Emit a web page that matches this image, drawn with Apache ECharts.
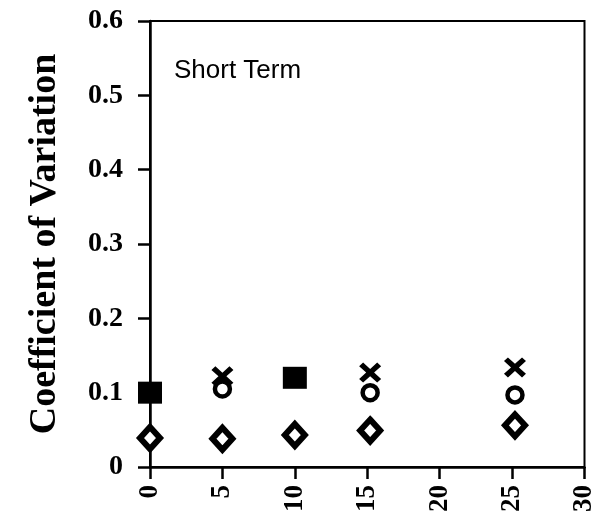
<!DOCTYPE html>
<html><head><meta charset="utf-8">
<script src="https://cdn.jsdelivr.net/npm/echarts@6/dist/echarts.min.js"></script>
<style>html,body{margin:0;padding:0;background:#fff}#c{width:598px;height:525px}</style>
</head><body><div id="c"></div>
<script>
const xCircle = [0, 5, 10, 15.2, 25.2];
const yCircle = [0.1, 0.105, 0.12, 0.1, 0.097];
const xCross = [0, 5, 10, 15.2, 25.2];
const yCross = [0.1, 0.122, 0.12, 0.127, 0.134];
const xDiamond = [0, 5, 10, 15.2, 25.2];
const yDiamond = [0.039, 0.038, 0.043, 0.049, 0.056];
const xSquare = [0, 10];
const ySquare = [0.1, 0.12];
const yTicks = ['0','0.1','0.2','0.3','0.4','0.5','0.6'];
const xTicks = ['0','5','10','15','20','25','30'];

const pair = (xs, ys) => xs.map((x, i) => [x, ys[i]]);
const crossPath = 'path://M0,1.8 L1.8,0 L5,3.2 L8.2,0 L10,1.8 L6.8,5 L10,8.2 L8.2,10 L5,6.8 L1.8,10 L0,8.2 L3.2,5 Z';

const chart = echarts.init(document.getElementById('c'));
chart.setOption({
  animation: false,
  backgroundColor: '#fff',
  grid: {left: 150, right: 13, top: 21, bottom: 58, show: true, borderColor: '#000', borderWidth: 2, backgroundColor: 'transparent'},
  xAxis: {
    type: 'value', min: 0, max: 30, interval: 5,
    axisLine: {show: true, lineStyle: {color: '#000', width: 2.5}},
    axisTick: {show: true, length: 12, lineStyle: {color: '#000', width: 2.5}},
    splitLine: {show: false},
    axisLabel: {rotate: 90, color: '#000', fontFamily: 'Liberation Serif', fontWeight: 'bold', fontSize: 27, margin: 18,
      formatter: v => xTicks[Math.round(v / 5)]}
  },
  yAxis: {
    type: 'value', min: 0, max: 0.6, interval: 0.1,
    name: 'Coefficient of Variation', nameLocation: 'middle', nameGap: 86, nameRotate: 90,
    nameTextStyle: {color: '#000', fontFamily: 'Liberation Serif', fontWeight: 'bold', fontSize: 38},
    axisLine: {show: true, lineStyle: {color: '#000', width: 2.5}},
    axisTick: {show: true, length: 12, lineStyle: {color: '#000', width: 2.5}},
    splitLine: {show: false},
    axisLabel: {color: '#000', fontFamily: 'Liberation Serif', fontWeight: 'bold', fontSize: 28, margin: 27,
      formatter: v => yTicks[Math.round(v * 10)]}
  },
  graphic: [{type: 'text', left: 174, top: 58, style: {text: 'Short Term', fontFamily: 'Liberation Sans', fontSize: 26, fill: '#000'}}],
  series: [
    {name: 'Diamond', type: 'scatter', data: pair(xDiamond, yDiamond), symbol: 'diamond', symbolSize: [20, 22],
      itemStyle: {color: '#fff', borderColor: '#000', borderWidth: 6, opacity: 1}},
    {name: 'Circle', type: 'scatter', data: pair(xCircle, yCircle), symbol: 'circle', symbolSize: 15,
      itemStyle: {color: '#fff', borderColor: '#000', borderWidth: 4.5, opacity: 1}},
    {name: 'Cross', type: 'scatter', data: pair(xCross, yCross), symbol: crossPath, symbolSize: [22, 20],
      itemStyle: {color: '#000', opacity: 1}},
    {name: 'Square', type: 'scatter', data: pair(xSquare, ySquare), symbol: 'rect', symbolSize: [24, 22],
      itemStyle: {color: '#000', opacity: 1}}
  ]
});
</script></body></html>
